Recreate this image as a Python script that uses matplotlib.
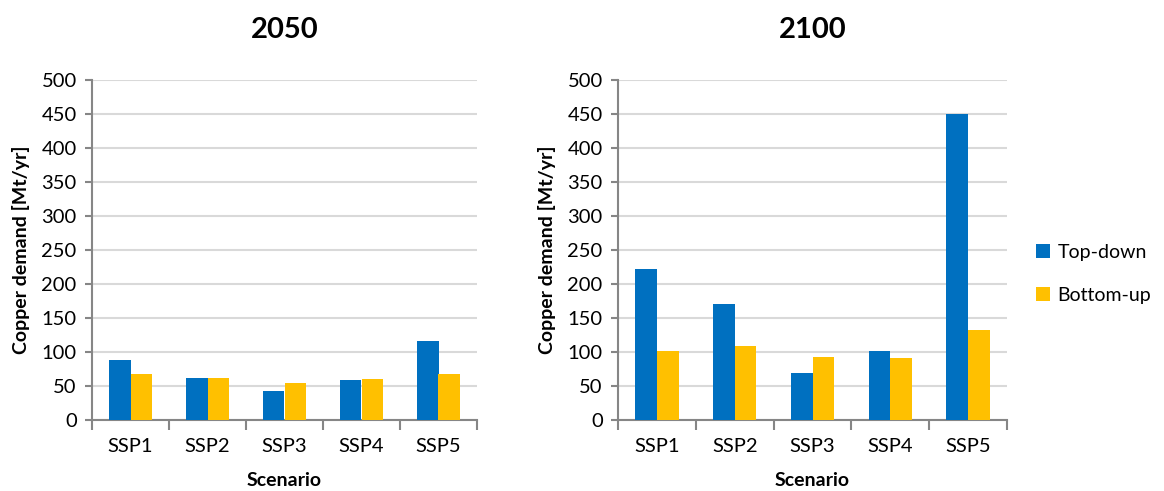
import matplotlib.pyplot as plt
import numpy as np

plt.rcParams['font.family'] = ['Lato', 'DejaVu Sans']

# Copper demand [Mt/yr]
scenarios = ['SSP1', 'SSP2', 'SSP3', 'SSP4', 'SSP5']
top_down_2050 = [88, 62, 42, 59, 116]
bottom_up_2050 = [67, 62, 55, 61, 67]
top_down_2100 = [222, 171, 69, 102, 450]
bottom_up_2100 = [102, 109, 92, 91, 132]
years = ['2050', '2100']

blue = '#0070C0'
yellow = '#FFC000'
grey = '#868686'

fig = plt.figure(figsize=(11.64, 4.91), dpi=100)
ax1 = fig.add_axes([92 / 1164, 71 / 491, 385 / 1164, 340 / 491])
ax2 = fig.add_axes([618 / 1164, 71 / 491, 389 / 1164, 340 / 491])

x = np.arange(len(scenarios))
w = 0.28

for ax, year, td, bu in [(ax1, years[0], top_down_2050, bottom_up_2050),
                         (ax2, years[1], top_down_2100, bottom_up_2100)]:
    ax.bar(x - w / 2, td, w, color=blue, label='Top-down', zorder=3)
    ax.bar(x + w / 2, bu, w, color=yellow, label='Bottom-up', zorder=3)
    ax.set_xlim(-0.5, len(scenarios) - 0.5)
    ax.set_ylim(0, 500)
    ax.set_yticks(range(0, 501, 50))
    ax.yaxis.grid(True, color='#d9d9d9', linewidth=1.5, zorder=0)
    ax.set_axisbelow(True)
    for s in ['top', 'right']:
        ax.spines[s].set_visible(False)
    for s in ['left', 'bottom']:
        ax.spines[s].set_color(grey)
        ax.spines[s].set_linewidth(1.5)
    # category labels between boundary ticks
    ax.set_xticks(np.arange(-0.5, len(scenarios), 1.0))
    ax.set_xticklabels([])
    ax.set_xticks(x, minor=True)
    ax.set_xticklabels(scenarios, minor=True, fontsize=14.5)
    ax.tick_params(axis='x', which='minor', length=0, pad=13)
    ax.tick_params(axis='x', which='major', length=7, color=grey, width=1.5)
    ax.tick_params(axis='y', length=5, color=grey, width=1.5, labelsize=14.5, pad=6)
    ax.set_xlabel('Scenario', fontsize=14, fontweight='bold', labelpad=12)
    ax.set_ylabel('Copper demand [Mt/yr]', fontsize=14, fontweight='bold', labelpad=8)
    ax.set_title(year, fontsize=21, fontweight='bold', pad=30)

ax2.legend(loc='center left', bbox_to_anchor=(1.04, 0.43), frameon=False,
           fontsize=14, handlelength=0.7, handleheight=0.7, labelspacing=1.35,
           handletextpad=0.4, borderaxespad=0.3)

plt.savefig('out.png', dpi=100)
